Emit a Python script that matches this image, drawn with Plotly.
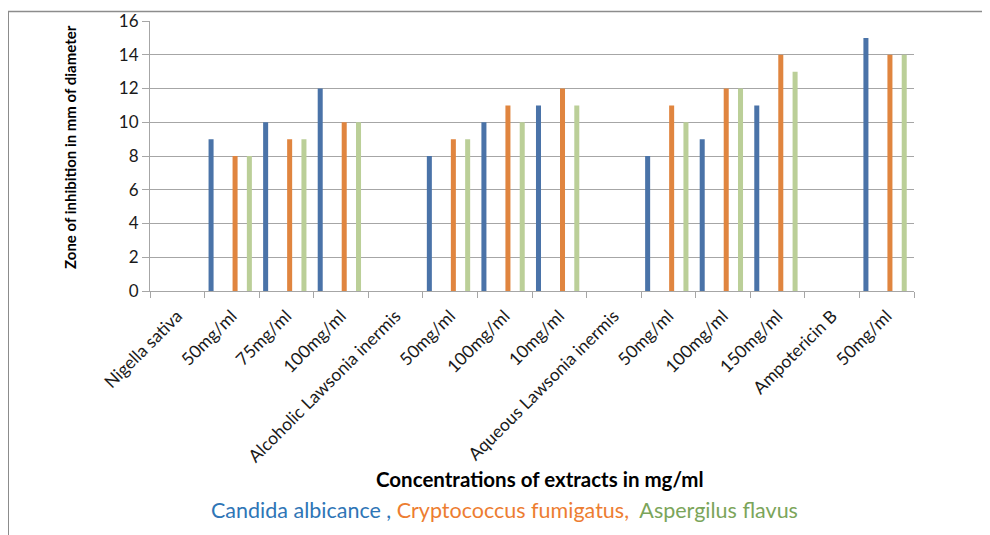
import plotly.graph_objects as go

categories = ["Nigella sativa", "50mg/ml", "75mg/ml", "100mg/ml",
              "Alcoholic Lawsonia inermis", "50mg/ml", "100mg/ml", "10mg/ml",
              "Aqueous Lawsonia inermis", "50mg/ml", "100mg/ml", "150mg/ml",
              "Ampotericin B", "50mg/ml"]
candida = [None, 9, 10, 12, None, 8, 10, 11, None, 8, 9, 11, None, 15]
crypto = [None, 8, 9, 10, None, 9, 11, 12, None, 11, 12, 14, None, 14]
asperg = [None, 8, 9, 10, None, 9, 10, 11, None, 10, 12, 13, None, 14]
y_ticks = [0, 2, 4, 6, 8, 10, 12, 14, 16]

FONT = "Lato"
OFF = 8  # page body margin
W, H = 990 - OFF, 535 - OFF
# plot area in viewport pixels
X0, X1, Y0, Y1 = 150, 914, 21, 291
L, R, T, B = X0 - OFF, W - (X1 - OFF), Y0 - OFF, H - (Y1 - OFF)
PW = X1 - X0
PH = Y1 - Y0

def px(xv):
    return (xv - X0) / PW

def py(yv):
    return (Y1 - yv) / PH

xs = list(range(len(categories)))
bar_w = 0.092
fig = go.Figure()
series = [
    ("Candida albicance", candida, "#4A73A8", -0.427),
    ("Cryptococcus fumigatus", crypto, "#E0853F", 0.013),
    ("Aspergilus flavus", asperg, "#BBCF98", 0.275),
]
for name, vals, col, off in series:
    fig.add_trace(go.Bar(x=xs, y=vals, name=name, width=bar_w, offset=off,
                         marker=dict(color=col, line=dict(width=0)),
                         showlegend=False))

grid = "#A6A6A6"
fig.update_layout(
    width=W, height=H,
    margin=dict(l=L, r=R, t=T, b=B, autoexpand=False),
    paper_bgcolor="white", plot_bgcolor="white",
    barmode="overlay",
    font=dict(family=FONT, color="#1a1a1a"),
    xaxis=dict(range=[-0.5, len(categories) - 0.5], tickmode="array",
               tickvals=xs, ticktext=categories, tickangle=-45, ticks="",
               ticklabelstandoff=7,
               tickfont=dict(size=17.5, family=FONT, color="#1a1a1a"),
               showgrid=False, showline=True, linecolor=grid, linewidth=1,
               zeroline=False,
               minor=dict(tickmode="array",
                          tickvals=[i - 0.5 for i in range(len(categories) + 1)],
                          ticks="outside", ticklen=6, tickcolor=grid,
                          showgrid=False)),
    yaxis=dict(range=[0, 16], tickmode="array", tickvals=y_ticks,
               ticks="outside", ticklen=7, tickcolor=grid,
               ticksuffix="\u00a0\u00a0",
               tickfont=dict(size=17, family=FONT, color="#1a1a1a"),
               showgrid=True, gridcolor=grid, gridwidth=1,
               showline=True, linecolor=grid, linewidth=1, zeroline=False),
)

fig.add_annotation(text="<b>Zone of inhibition in mm of diameter</b>",
                   xref="paper", yref="paper", x=px(70), y=py(147),
                   textangle=-90, showarrow=False,
                   font=dict(size=15, family=FONT, color="black"),
                   xanchor="center", yanchor="middle")
fig.add_annotation(text="<b>Concentrations of extracts in mg/ml</b>",
                   xref="paper", yref="paper", x=px(540), y=py(479),
                   showarrow=False, font=dict(size=20.5, family=FONT, color="black"),
                   xanchor="center", yanchor="middle")
fig.add_annotation(
    text=("<span style='color:#2E75B6'>Candida albicance , </span>"
          "<span style='color:#ED7D31'>Cryptococcus fumigatus,  </span>"
          "<span style='color:#7BA55A'>Aspergilus flavus</span>"),
    xref="paper", yref="paper", x=px(504), y=py(510), showarrow=False,
    font=dict(size=21.5, family=FONT), xanchor="center", yanchor="middle")

frame = "#8C8C8C"
fig.add_shape(type="line", xref="paper", yref="paper",
              x0=px(8), x1=px(990), y0=py(11.5), y1=py(11.5),
              line=dict(color=frame, width=1.5))
fig.add_shape(type="line", xref="paper", yref="paper",
              x0=px(8), x1=px(8), y0=py(11.5), y1=py(535),
              line=dict(color=frame, width=2))

fig.write_html("out.html")
